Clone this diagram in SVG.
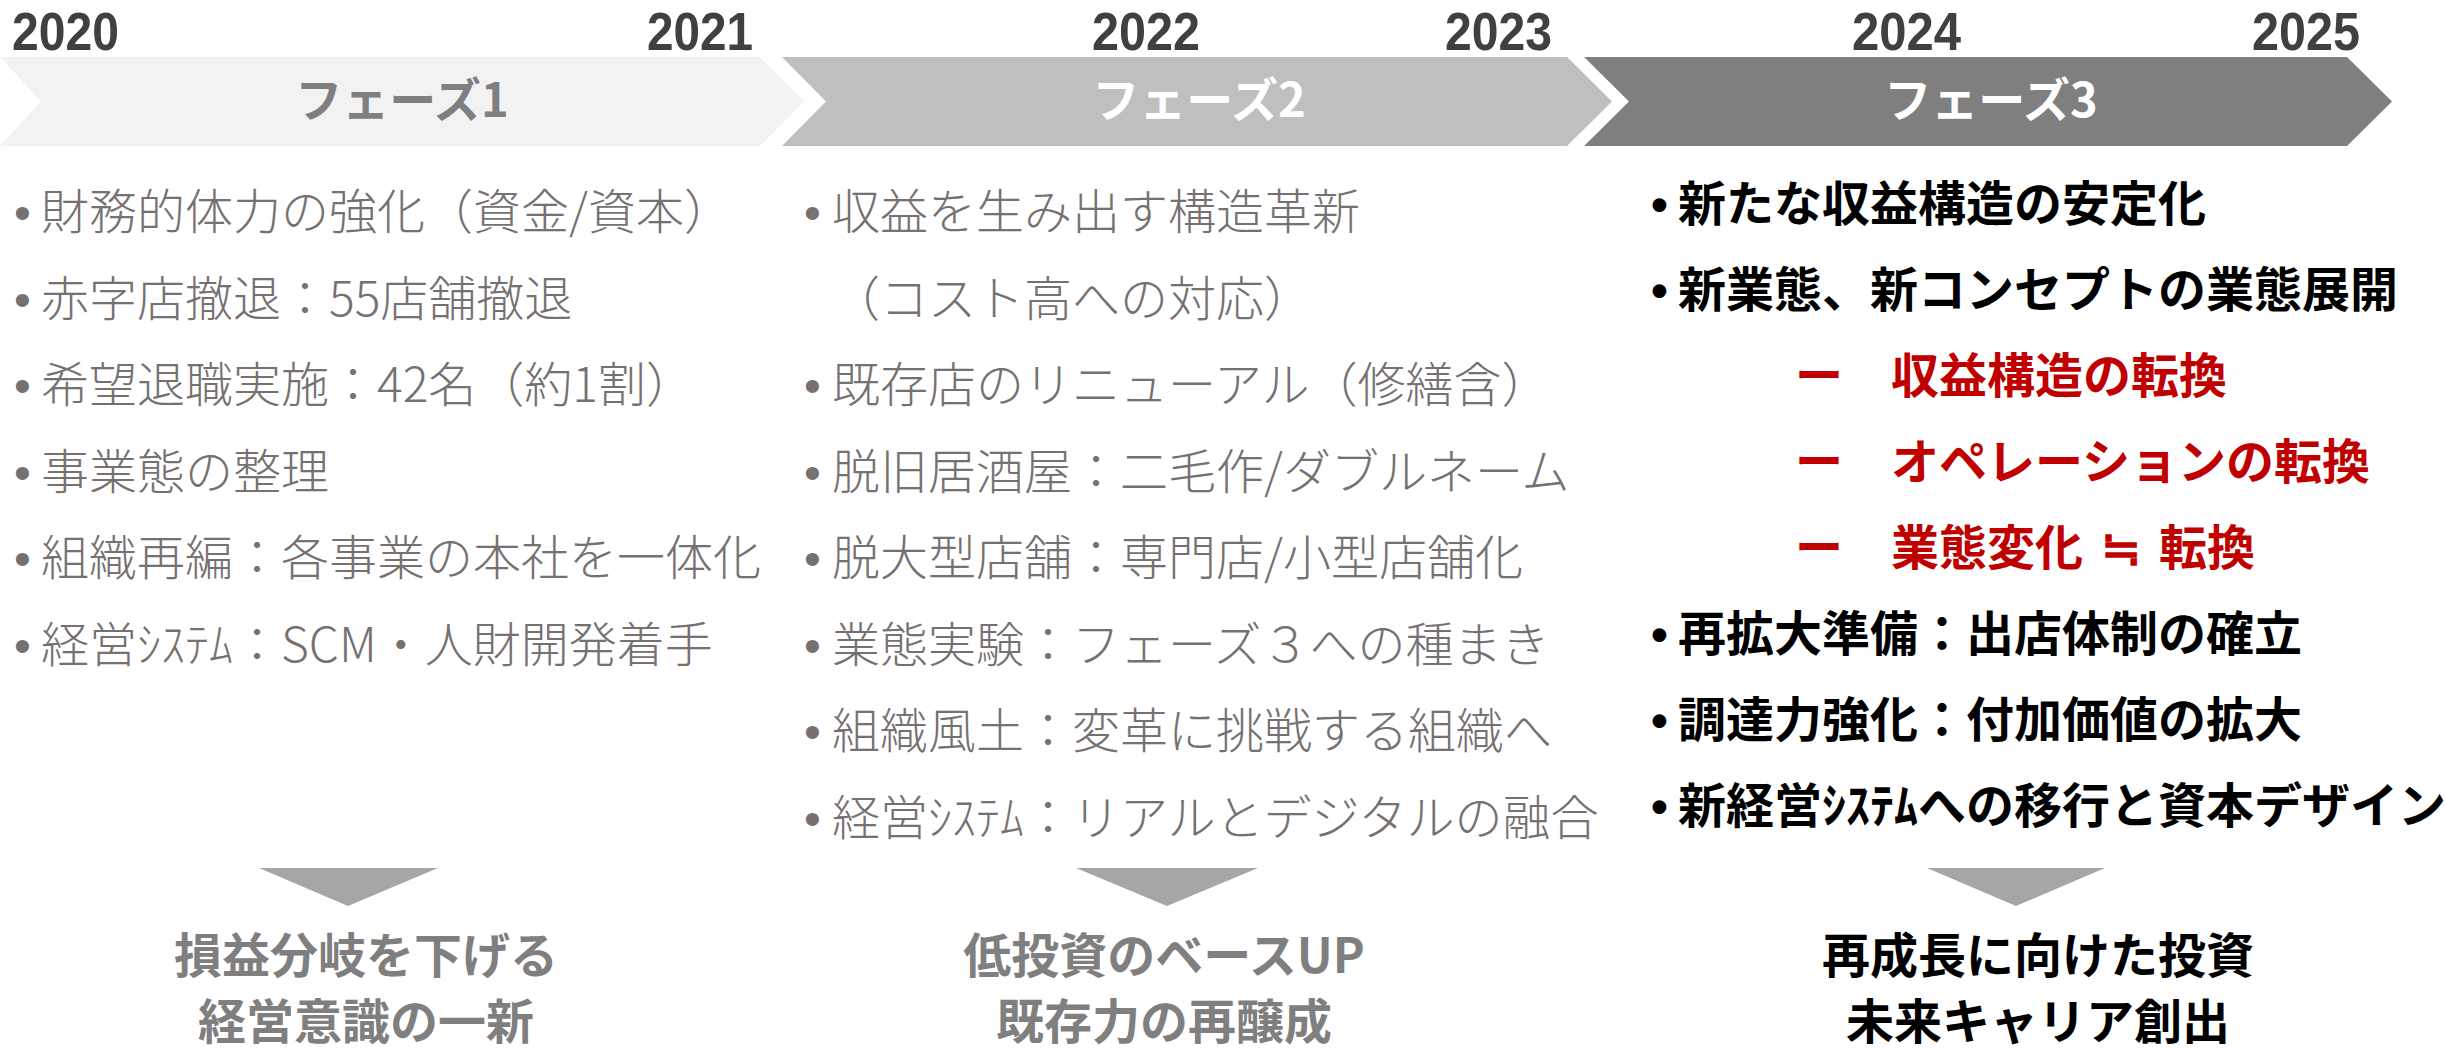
<svg xmlns="http://www.w3.org/2000/svg" width="2445" height="1053" viewBox="0 0 2445 1053">
<style>
text{font-family:'Noto Sans CJK JP','Noto Sans',sans-serif;text-spacing-trim:space-all}
.yr{font-family:'Liberation Sans',Arial,sans-serif;font-weight:700;font-size:53px;fill:#404040}
.ph{font-weight:700;font-size:47px;text-anchor:middle}
.lt{font-weight:300;font-size:48px;fill:#767171}
.bl{font-family:'Liberation Sans',Arial,sans-serif}
.bd{font-weight:700;font-size:48px;fill:#000}
.red{fill:#c00000}
.res{font-weight:700;font-size:48px;text-anchor:middle}
.tri{fill:#a6a6a6}
</style>
<rect width="2445" height="1053" fill="#fff"/>
<g id="years">
<text class="yr" x="12" y="50" textLength="107" lengthAdjust="spacingAndGlyphs">2020</text>
<text class="yr" x="647" y="50" textLength="106" lengthAdjust="spacingAndGlyphs">2021</text>
<text class="yr" x="1092" y="50" textLength="108" lengthAdjust="spacingAndGlyphs">2022</text>
<text class="yr" x="1445" y="50" textLength="107" lengthAdjust="spacingAndGlyphs">2023</text>
<text class="yr" x="1852" y="50" textLength="109" lengthAdjust="spacingAndGlyphs">2024</text>
<text class="yr" x="2252" y="50" textLength="108" lengthAdjust="spacingAndGlyphs">2025</text>
</g>
<g id="phase1">
<polygon points="0,57 760,57 804,101.5 760,146 0,146 41,101.5" fill="#f2f2f2"/>
<text class="ph" x="402" y="117" fill="#7f7f7f">フェーズ1</text>
</g>
<g id="phase2">
<polygon points="782,57 1567,57 1612,101.5 1567,146 782,146 826,101.5" fill="#bfbfbf"/>
<text class="ph" x="1199" y="117" fill="#fff">フェーズ2</text>
</g>
<g id="phase3">
<polygon points="1584,57 2347,57 2392,101.5 2347,146 1584,146 1629,101.5" fill="#7f7f7f"/>
<text class="ph" x="1991" y="117" fill="#fff">フェーズ3</text>
</g>
<g id="list1">
<text class="lt bl" x="14" y="229">•</text><text class="lt" x="41" y="229">財務的体力の強化（資金/資本）</text>
<text class="lt bl" x="14" y="315.5">•</text><text class="lt" x="41" y="315.5">赤字店撤退：55店舗撤退</text>
<text class="lt bl" x="14" y="402">•</text><text class="lt" x="41" y="402">希望退職実施：42名（約1割）</text>
<text class="lt bl" x="14" y="488.5">•</text><text class="lt" x="41" y="488.5">事業態の整理</text>
<text class="lt bl" x="14" y="575">•</text><text class="lt" x="41" y="575">組織再編：各事業の本社を一体化</text>
<text class="lt bl" x="14" y="661.5">•</text><text class="lt" x="41" y="661.5">経営ｼｽﾃﾑ：SCM・人財開発着手</text>
</g>
<g id="list2">
<text class="lt bl" x="804" y="229">•</text><text class="lt" x="832" y="229">収益を生み出す構造革新</text>
<text class="lt" x="832" y="315.5">（コスト高への対応）</text>
<text class="lt bl" x="804" y="402">•</text><text class="lt" x="832" y="402">既存店のリニューアル（修繕含）</text>
<text class="lt bl" x="804" y="488.5">•</text><text class="lt" x="832" y="488.5">脱旧居酒屋：二毛作/ダブルネーム</text>
<text class="lt bl" x="804" y="575">•</text><text class="lt" x="832" y="575">脱大型店舗：専門店/小型店舗化</text>
<text class="lt bl" x="804" y="661.5">•</text><text class="lt" x="832" y="661.5">業態実験：フェーズ３への種まき</text>
<text class="lt bl" x="804" y="748">•</text><text class="lt" x="832" y="748">組織風土：変革に挑戦する組織へ</text>
<text class="lt bl" x="804" y="834.5">•</text><text class="lt" x="832" y="834.5">経営ｼｽﾃﾑ：リアルとデジタルの融合</text>
</g>
<g id="list3">
<text class="bd bl" x="1651" y="221">•</text><text class="bd" x="1678" y="221">新たな収益構造の安定化</text>
<text class="bd bl" x="1651" y="307">•</text><text class="bd" x="1678" y="307">新業態、新コンセプトの業態展開</text>
<text class="bd red" x="1795" y="393">ー　収益構造の転換</text>
<text class="bd red" x="1795" y="479">ー　オペレーションの転換</text>
<text class="bd red" x="1795" y="565">ー　業態変化</text>
<text class="bd red" x="2121" y="565" text-anchor="middle">≒</text>
<text class="bd red" x="2159" y="565">転換</text>
<text class="bd bl" x="1651" y="651">•</text><text class="bd" x="1678" y="651">再拡大準備：出店体制の確立</text>
<text class="bd bl" x="1651" y="737">•</text><text class="bd" x="1678" y="737">調達力強化：付加価値の拡大</text>
<text class="bd bl" x="1651" y="823">•</text><text class="bd" x="1678" y="823">新経営ｼｽﾃﾑへの移行と資本デザイン</text>
</g>
<g id="arrows">
<polygon class="tri" points="259,868 438,868 348,906"/>
<polygon class="tri" points="1076,868 1258,868 1167,906"/>
<polygon class="tri" points="1927,868 2105,868 2016,906"/>
</g>
<g id="result1">
<text class="res" fill="#7f7f7f"><tspan x="366" y="973">損益分岐を下げる</tspan><tspan x="366" y="1039">経営意識の一新</tspan></text>
</g>
<g id="result2">
<text class="res" fill="#7f7f7f"><tspan x="1164" y="973">低投資のベースUP</tspan><tspan x="1164" y="1039">既存力の再醸成</tspan></text>
</g>
<g id="result3">
<text class="res" fill="#000"><tspan x="2038" y="973">再成長に向けた投資</tspan><tspan x="2038" y="1039">未来キャリア創出</tspan></text>
</g>
</svg>
